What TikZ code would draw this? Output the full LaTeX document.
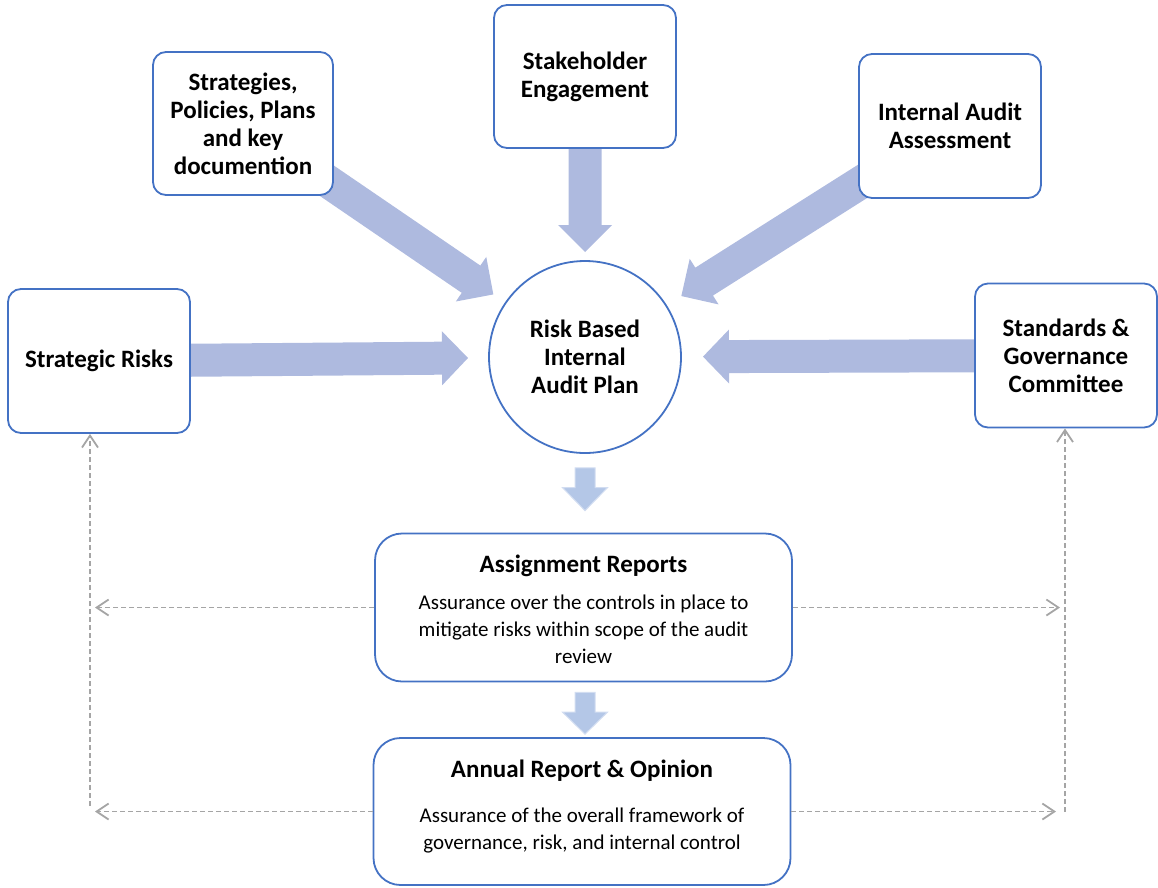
\documentclass[tikz,border=0pt]{standalone}
\usepackage{fontspec}
\setmainfont{Carlito}
\usepackage{tikz}
\usetikzlibrary{arrows.meta,calc,positioning,backgrounds}
\definecolor{BoxBlue}{HTML}{4472C4}
\definecolor{ArrowLilac}{HTML}{AEBADF}
\definecolor{ArrowPale}{HTML}{B4C7E7}
\definecolor{DashGray}{HTML}{A5A5A5}

% block arrow: style, from, to, half shaft, half head, head length
\newcommand{\blockarrow}[6]{%
  \path ($(#3)!#6!(#2)$) coordinate (hb);
  \fill[#1] ($(#2)!#4!-90:(#3)$) -- ($(hb)!#4!90:(#2)$) -- ($(hb)!#5!90:(#2)$)
    -- (#3) -- ($(hb)!#5!-90:(#2)$) -- ($(hb)!#4!-90:(#2)$) -- ($(#2)!#4!90:(#3)$) -- cycle;
}

\begin{document}
\begin{tikzpicture}[
    x=1pt, y=-1pt,
    font=\fontsize{25}{28}\selectfont\bfseries,
    src/.style={draw=BoxBlue,fill=white,line width=1.8pt,rounded corners=13pt,minimum width=182pt,minimum height=144pt,align=center},
    hub/.style={circle,draw=BoxBlue,fill=white,line width=1.8pt,minimum size=192pt,inner sep=0pt,align=center},
    report/.style={draw=BoxBlue,fill=white,line width=1.8pt,rounded corners=27pt,minimum width=417pt,minimum height=148pt},
    title/.style={anchor=base,font=\fontsize{25}{28}\selectfont\bfseries},
    body/.style={align=center,font=\fontsize{21}{27}\selectfont},
    bigarrow/.style={fill=ArrowLilac},
    smallarrow/.style={fill=ArrowPale,draw=ArrowPale!60,line width=1pt},
    feedback/.style={draw=DashGray,line width=1.8pt,dash pattern=on 5pt off 3pt,-{Straight Barb[length=12pt,width=16pt]}}
  ]
  \useasboundingbox (0,0) rectangle (1158,887);

  \node[src,minimum width=180pt,minimum height=143pt] (strat) at (243,123.5) {Strategies,\\Policies, Plans\\and key\\documention};
  \node[src,minimum height=143pt] (stake) at (585,76.5) {Stakeholder\\Engagement};
  \node[src] (iaa) at (950,126) {Internal Audit\\Assessment};
  \node[src] (risks) at (99,361) {Strategic Risks};
  \node[src] (sgc) at (1066,355.5) {Standards \&\\Governance\\Committee};
  \node[hub] (plan) at (585,357) {Risk Based\\Internal\\Audit Plan};

  \node[report] (assign) at (583.5,607.5) {};
  \node[title] (assignhead) at ([yshift=-40pt]assign.north) {Assignment Reports};
  \node[body] (assignbody) at ([yshift=-97pt]assign.north) {Assurance over the controls in place to\\mitigate risks within scope of the audit\\review};

  \node[report,minimum height=147pt] (annual) at (582,811.5) {};
  \node[title] (annualhead) at ([yshift=-40pt]annual.north) {Annual Report \& Opinion};
  \node[body] (annualbody) at ([yshift=-93.5pt]annual.north) {Assurance of the overall framework of\\governance, risk, and internal control};

  \begin{scope}[on background layer]
    \coordinate (tipNW) at ($(plan)!111pt!(strat)$);
    \coordinate (tipN) at ($(plan)!105pt!(stake)$);
    \coordinate (tipNE) at ($(plan)!114pt!(iaa)$);
    \coordinate (tipW) at ($(plan)!117pt!(risks)$);
    \coordinate (tipE) at ($(plan)!118pt!(sgc)$);
    \blockarrow{bigarrow}{strat}{tipNW}{16.5pt}{27pt}{27pt}
    \blockarrow{bigarrow}{stake}{tipN}{16.5pt}{27pt}{27pt}
    \blockarrow{bigarrow}{iaa}{tipNE}{16.5pt}{27pt}{27pt}
    \blockarrow{bigarrow}{risks}{tipW}{16.5pt}{27pt}{26pt}
    \blockarrow{bigarrow}{sgc}{tipE}{16.5pt}{27pt}{26pt}
  \end{scope}

  \path (plan.south) ++(0,14) coordinate (d1a);
  \path (assign.north -| plan.south) ++(0,-22) coordinate (d1b);
  \blockarrow{smallarrow}{d1a}{d1b}{10pt}{22.5pt}{23pt}
  \path (assign.south -| plan.south) ++(0,10) coordinate (d2a);
  \path (annual.north -| plan.south) ++(0,-3) coordinate (d2b);
  \blockarrow{smallarrow}{d2a}{d2b}{10pt}{22.5pt}{22pt}

  % feedback to the risk and committee boxes
  \coordinate (lbot) at (90,806);
  \coordinate (rbot) at (1065,812);
  \draw[feedback] (lbot) -- (lbot |- risks.south);
  \draw[feedback] (rbot) -- (rbot |- sgc.south);
  \draw[feedback,shorten >=5pt] (assign.west) -- (assign.west -| lbot);
  \draw[feedback,shorten >=5pt] (annual.west) -- (annual.west -| lbot);
  \draw[feedback,shorten >=5pt] (assign.east) -- (assign.east -| rbot);
  \draw[feedback,shorten >=9pt] (annual.east) -- (annual.east -| rbot);
\end{tikzpicture}
\end{document}
